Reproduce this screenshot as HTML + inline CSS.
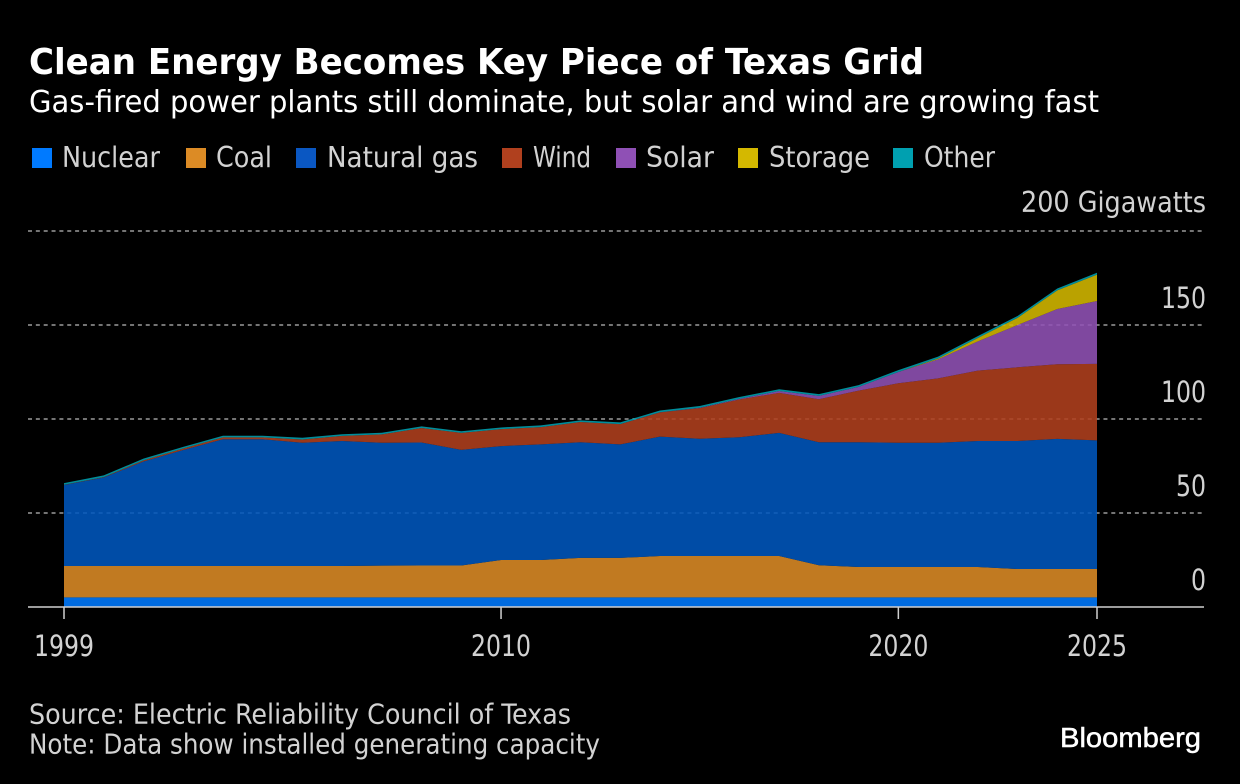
<!DOCTYPE html>
<html lang="en">
<head>
<meta charset="utf-8">
<title>Clean Energy Becomes Key Piece of Texas Grid</title>
<style>
html,body{margin:0;padding:0;background:#000;width:1240px;height:784px;overflow:hidden}
svg{display:block}
text{font-family:"DejaVu Sans",sans-serif;font-stretch:condensed;fill:#d2d2d2}
</style>
</head>
<body>
<svg id="chart" width="1240" height="784" viewBox="0 0 1240 784" xmlns="http://www.w3.org/2000/svg">
<rect width="1240" height="784" fill="#000"/>
<text x="29" y="74" font-size="36" font-weight="700" style="fill:#fff" textLength="895" lengthAdjust="spacingAndGlyphs">Clean Energy Becomes Key Piece of Texas Grid</text>
<text x="29" y="112" font-size="30" style="fill:#fff" textLength="1070" lengthAdjust="spacingAndGlyphs">Gas-fired power plants still dominate, but solar and wind are growing fast</text>

<g>
<rect x="32" y="148" width="20" height="20" fill="#007aff"/>
<text x="62" y="167" font-size="28.5" textLength="98" lengthAdjust="spacingAndGlyphs">Nuclear</text>
<rect x="186" y="148" width="20" height="20" fill="#dc8b25"/>
<text x="216" y="167" font-size="28.5" textLength="56" lengthAdjust="spacingAndGlyphs">Coal</text>
<rect x="296" y="148" width="20" height="20" fill="#0a57c2"/>
<text x="327" y="167" font-size="28.5" textLength="151" lengthAdjust="spacingAndGlyphs">Natural gas</text>
<rect x="502" y="148" width="20" height="20" fill="#b0401e"/>
<text x="533" y="167" font-size="28.5" textLength="58" lengthAdjust="spacingAndGlyphs">Wind</text>
<rect x="616" y="148" width="20" height="20" fill="#8f50b5"/>
<text x="646" y="167" font-size="28.5" textLength="68" lengthAdjust="spacingAndGlyphs">Solar</text>
<rect x="738" y="148" width="20" height="20" fill="#d4b800"/>
<text x="769" y="167" font-size="28.5" textLength="101" lengthAdjust="spacingAndGlyphs">Storage</text>
<rect x="893" y="148" width="20" height="20" fill="#00a0b0"/>
<text x="924" y="167" font-size="28.5" textLength="71" lengthAdjust="spacingAndGlyphs">Other</text>
</g>

<g id="grid"></g>
<g id="areas"></g>
<g id="axes"></g>

<text x="29" y="723.5" font-size="27.5" textLength="542" lengthAdjust="spacingAndGlyphs">Source: Electric Reliability Council of Texas</text>
<text x="29" y="753.5" font-size="27.5" textLength="571" lengthAdjust="spacingAndGlyphs">Note: Data show installed generating capacity</text>
<text x="1060" y="747" font-size="28" style="font-family:'Liberation Sans',sans-serif;fill:#fff;stroke:#fff;stroke-width:0.5" textLength="141" lengthAdjust="spacingAndGlyphs">Bloomberg</text>
</svg>

<script>
const years = [1999,2000,2001,2002,2003,2004,2005,2006,2007,2008,2009,2010,2011,2012,2013,2014,2015,2016,2017,2018,2019,2020,2021,2022,2023,2024,2025];
const nuclear = [5.1,5.1,5.1,5.1,5.1,5.1,5.1,5.1,5.1,5.1,5.1,5.1,5.1,5.1,5.1,5.1,5.1,5.1,5.1,5.1,5.1,5.1,5.1,5.1,5.1,5.1,5.1];
const coal = [16.7,16.7,16.7,16.7,16.7,16.7,16.7,16.7,16.9,17,17,19.9,19.9,21,21,22,22,22,22,17.1,16.2,16.2,16.2,16.2,15.1,15.1,15.1];
const gas = [43.1,47.1,55.6,61.7,67.4,67.4,65.6,66.5,65.4,65.4,61.5,60.6,61.5,61.5,60.4,63.5,62.4,63.2,65.5,65.4,66.3,66.1,66.1,67,68.1,69.2,68.4];
const wind = [0.1,0.2,0.6,0.8,1,1,1.7,2.7,4.4,7.7,9,9,9.2,10.8,10.8,12.9,16.3,20.1,21.3,22.9,27.5,31.6,34.2,37.4,39.2,39.7,40.7];
const solar = [0,0,0,0,0,0,0,0,0,0,0,0,0,0,0,0.1,0.2,0.4,1,1.8,2,6,10.1,15.6,22.5,29.4,33.5];
const storage = [0,0,0,0,0,0,0,0,0,0,0,0,0,0,0,0,0,0,0,0,0,0,0.5,1.8,3.8,9.9,14];
const other = [0.9,0.9,0.9,0.9,0.9,0.9,0.9,0.9,0.9,0.9,0.9,0.9,0.9,0.9,0.9,0.9,0.9,0.9,0.9,0.9,0.9,1,1,1,1,1,1];
const yTicks = [0,50,100,150,200];
const xTicks = [1999,2010,2020,2025];

const NS = 'http://www.w3.org/2000/svg';
const xScale = function (yr) { return 64 + (yr - 1999) * (1097 - 64) / 26; };
const yScale = function (v) { return 607 - v * (607 - 231) / 200; };

const gridG = document.getElementById('grid');
const areaG = document.getElementById('areas');
const axesG = document.getElementById('axes');

yTicks.forEach(function (t) {
  if (t !== 0) {
    const gl = document.createElementNS(NS, 'line');
    
    
    gl.setAttribute('x1', 28);
    gl.setAttribute('x2', 1204);
    gl.setAttribute('y1', yScale(t));
    gl.setAttribute('y2', yScale(t));
    gl.setAttribute('stroke', '#747474');
    gl.setAttribute('stroke-width', '2');
    gl.setAttribute('stroke-dasharray', '4 3.85');
    gridG.appendChild(gl);
  }
  const lb = document.createElementNS(NS, 'text');
  
  
  lb.setAttribute('x', 1206);
  lb.setAttribute('y', yScale(t) - 17);
  lb.setAttribute('text-anchor', 'end');
  lb.setAttribute('font-size', '29');
  lb.textContent = t === 200 ? t + ' Gigawatts' : String(t);
  if (t === 200) { lb.setAttribute('textLength', '185'); lb.setAttribute('lengthAdjust', 'spacingAndGlyphs'); lb.setAttribute('y', 212); lb.setAttribute('font-size', '28.5'); }
  else { lb.setAttribute('textLength', String(String(t).length * 15)); lb.setAttribute('lengthAdjust', 'spacingAndGlyphs'); }
  axesG.appendChild(lb);
});

const seriesNames = ['nuclear','coal','natural-gas','wind','solar','storage','other'];
const seriesValues = [nuclear, coal, gas, wind, solar, storage, other];
const seriesColors = ['#007aff','#dc8b25','#0057bd','#b0401e','#9152b5','#d4b800','#00a0b0'];

const base = years.map(function () { return 0; });
seriesValues.forEach(function (vals, s) {
  const top = base.map(function (b, i) { return b + vals[i]; });
  let d = '';
  years.forEach(function (yr, i) { d += (i ? 'L' : 'M') + xScale(yr).toFixed(2) + ' ' + yScale(top[i]).toFixed(2); });
  for (let i = years.length - 1; i >= 0; i--) { d += 'L' + xScale(years[i]).toFixed(2) + ' ' + yScale(base[i]).toFixed(2); }
  d += 'Z';
  const p = document.createElementNS(NS, 'path');
  
  
  p.setAttribute('d', d);
  p.setAttribute('fill', seriesColors[s]);
  p.setAttribute('fill-opacity', '0.88');
  areaG.appendChild(p);
  top.forEach(function (v, i) { base[i] = v; });
});

const axisLine = document.createElementNS(NS, 'line');


axisLine.setAttribute('x1', 28);
axisLine.setAttribute('x2', 1204);
axisLine.setAttribute('y1', yScale(0));
axisLine.setAttribute('y2', yScale(0));
axisLine.setAttribute('stroke', '#d0d0d0');
axisLine.setAttribute('stroke-width', '1.5');
axesG.appendChild(axisLine);

xTicks.forEach(function (yr) {
  const tk = document.createElementNS(NS, 'line');
  
  
  tk.setAttribute('x1', xScale(yr));
  tk.setAttribute('x2', xScale(yr));
  tk.setAttribute('y1', 607);
  tk.setAttribute('y2', 619);
  tk.setAttribute('stroke', '#d0d0d0');
  tk.setAttribute('stroke-width', '1.5');
  axesG.appendChild(tk);
  const lb = document.createElementNS(NS, 'text');
  
  
  lb.setAttribute('x', xScale(yr));
  lb.setAttribute('y', 656);
  lb.setAttribute('text-anchor', 'middle');
  lb.setAttribute('font-size', '29');
  lb.setAttribute('textLength', '60');
  lb.setAttribute('lengthAdjust', 'spacingAndGlyphs');
  lb.textContent = String(yr);
  axesG.appendChild(lb);
});
</script>
</body>
</html>
